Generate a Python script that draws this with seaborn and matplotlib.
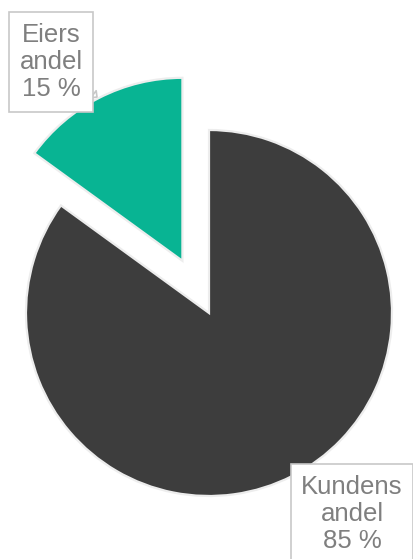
import matplotlib
matplotlib.use("Agg")
import matplotlib.pyplot as plt
import seaborn as sns

# andeler (prosent)
parts = ["Eiers\nandel", "Kundens\nandel"]
shares = [15, 85]
colors = ["#08B493", "#3D3D3D"]
explode = [0.32, 0.0]

sns.set_theme(style="white")
plt.rcParams["font.family"] = ["Liberation Sans", "DejaVu Sans"]

W, H = 413, 559
fig = plt.figure(figsize=(W / 100, H / 100), dpi=100)
ax = fig.add_axes([0, 0, 1, 1])

# pie centre at (209, 313) px, radius 183 px
cx, cy, r = 209, 313, 183
ax.pie(shares, colors=colors, explode=explode, startangle=90, counterclock=True,
       radius=1.0, wedgeprops=dict(edgecolor="#EDEDED", linewidth=1.6))
ax.set_xlim(-cx / r, (W - cx) / r)
ax.set_ylim(-(H - cy) / r, cy / r)
ax.set_aspect("equal")
ax.axis("off")

# callout labels (positions in figure pixels)
label_pos = [(51, 62), (352, 514)]
tip_pos = [(97, 97), (293, 478)]
for name, v, (tx, ty), (px, py) in zip(parts, shares, label_pos, tip_pos):
    ax.annotate(f"{name}\n{v} %",
                xy=(px / W, 1 - py / H), xycoords="figure fraction",
                xytext=(tx / W, 1 - ty / H), textcoords="figure fraction",
                ha="center", va="center", fontsize=18.5, color="#7F7F7F",
                linespacing=1.17, multialignment="center",
                bbox=dict(boxstyle="square,pad=0.4", fc="white", ec="#C8C8C8", lw=1.2),
                arrowprops=dict(arrowstyle="wedge,tail_width=0.35", fc="white",
                                ec="#C8C8C8", lw=1.2, shrinkA=0, shrinkB=0))

fig.savefig("out.png", dpi=100)
